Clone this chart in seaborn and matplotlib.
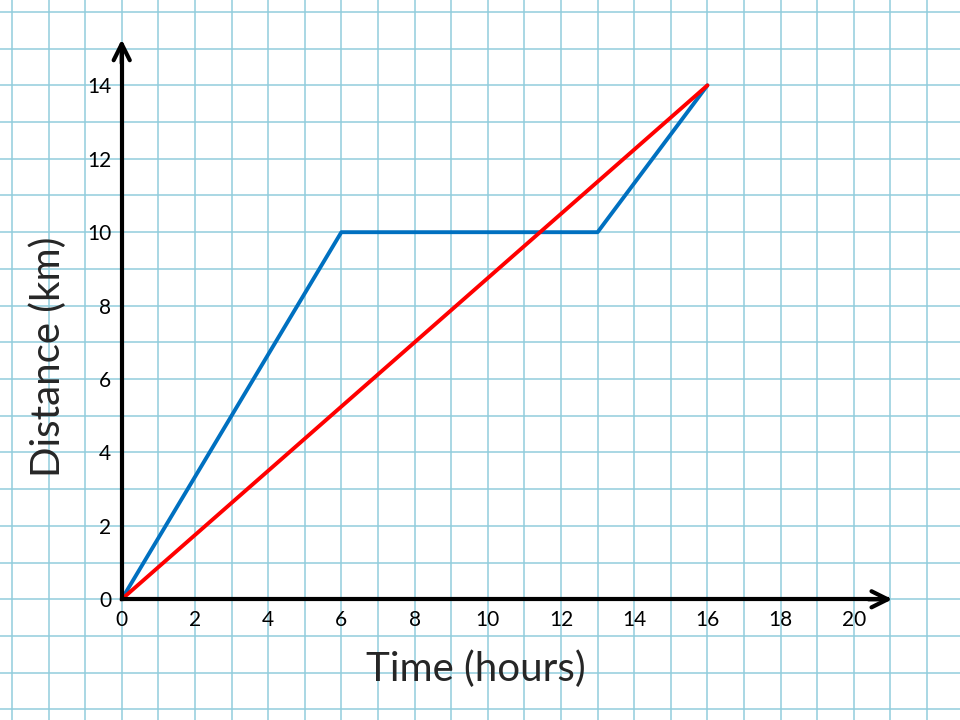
import matplotlib
matplotlib.use("Agg")
import matplotlib.pyplot as plt
from matplotlib.ticker import MultipleLocator
import seaborn as sns
import pandas as pd

# Data
blue_time = [0, 6, 13, 16]
blue_dist = [0, 10, 10, 14]
red_time = [0, 16]
red_dist = [0, 14]
x_ticks = list(range(0, 21, 2))
y_ticks = list(range(0, 15, 2))
x_label = "Time (hours)"
y_label = "Distance (km)"

df = pd.concat([
    pd.DataFrame({"time": blue_time, "dist": blue_dist, "series": "blue"}),
    pd.DataFrame({"time": red_time, "dist": red_dist, "series": "red"}),
], ignore_index=True)

sns.set_style("white")
plt.rcParams["font.family"] = ["Lato", "DejaVu Sans"]

fig = plt.figure(figsize=(9.6, 7.2), dpi=100)
ax = fig.add_axes([0, 0, 1, 1])

grid_col = "#92CDDC"

sns.lineplot(data=df, x="time", y="dist", hue="series", units="series",
             estimator=None, sort=False, palette={"blue": "#0070C0", "red": "#FF0000"},
             linewidth=2.8, legend=False, ax=ax, zorder=3)

ax.set_xlim(-3.325, 22.90)
ax.set_ylim(-3.288, 16.325)

ax.set_xticks(x_ticks)
ax.set_yticks(y_ticks)
ax.xaxis.set_minor_locator(MultipleLocator(1))
ax.yaxis.set_minor_locator(MultipleLocator(1))
ax.grid(True, which="both", color=grid_col, linewidth=1.1, zorder=0)
ax.set_axisbelow(True)

for s in ["top", "right"]:
    ax.spines[s].set_visible(False)
ax.spines["left"].set_position(("data", 0))
ax.spines["bottom"].set_position(("data", 0))
ax.spines["left"].set_bounds(0, 15.0)
ax.spines["bottom"].set_bounds(0, 20.9)
for s in ["left", "bottom"]:
    ax.spines[s].set_linewidth(3)
    ax.spines[s].set_color("black")
    ax.spines[s].set_zorder(4)

ax.tick_params(which="major", direction="out", length=4.5, width=3, color="black",
               labelsize=15, labelcolor="black")
ax.tick_params(axis="x", pad=3)
ax.tick_params(axis="y", pad=3)
ax.tick_params(which="minor", length=0)
ax.set_xlabel("")
ax.set_ylabel("")

arrow = dict(arrowstyle="->,head_length=0.58,head_width=0.29", lw=3, color="black",
             mutation_scale=20, shrinkA=0, shrinkB=0)
ax.annotate("", xy=(0, 15.25), xytext=(0, 14.6), arrowprops=arrow, zorder=5)
ax.annotate("", xy=(21.05, 0), xytext=(20.4, 0), arrowprops=arrow, zorder=5)

fig.text(476 / 960, 1 - 669 / 720, x_label, ha="center", va="center", fontsize=29)
fig.text(48 / 960, 1 - 357 / 720, y_label, ha="center", va="center", fontsize=29,
         rotation=90)

fig.savefig("out.png", dpi=100)
